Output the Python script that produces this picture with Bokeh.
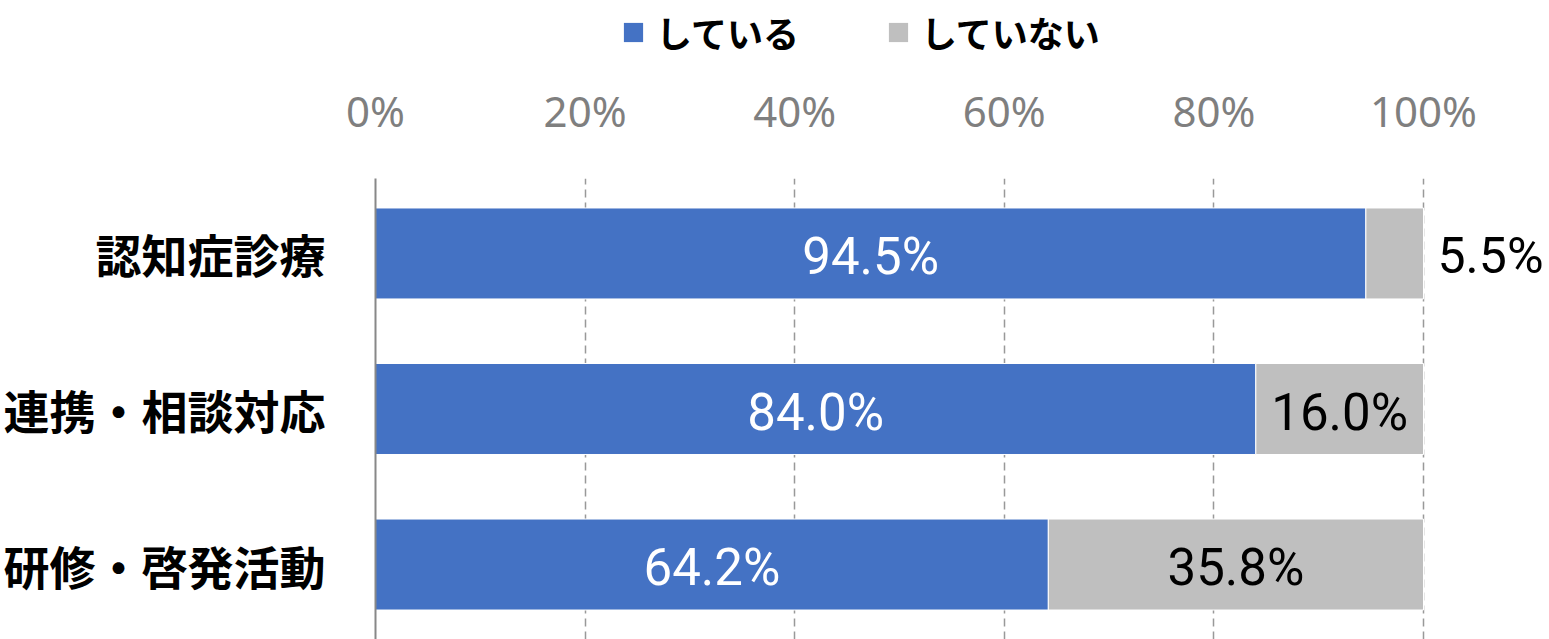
from bokeh.plotting import figure
from bokeh.layouts import column
from bokeh.models import Range1d, FixedTicker, Legend, LegendItem, ColumnDataSource
from bokeh.core.properties import value
from bokeh.embed import file_html
from bokeh.resources import INLINE

categories = ["認知症診療", "連携・相談対応", "研修・啓発活動"]
doing = [94.5, 84.0, 64.2]
not_doing = [5.5, 16.0, 35.8]
series_names = ["している", "していない"]
tick_values = [0, 20, 40, 60, 80, 100]
tick_labels = ["0%", "20%", "40%", "60%", "80%", "100%"]

BLUE = "#4472C4"
GRAY = "#BFBFBF"
JP = "Noto Sans CJK JP"
NUM = "Noto Sans"
LBL = "Roboto"

W = 1549
H_LEG = 70
H_MAIN = 639 - H_LEG
FRAME_LEFT = 375

ypos = [len(categories) - 1 - i for i in range(len(categories))]

# ---------- legend strip ----------
pl = figure(width=W, height=H_LEG, output_backend="svg", toolbar_location=None,
            x_range=Range1d(0, 1), y_range=Range1d(0, 1),
            min_border_left=0, min_border_right=0, min_border_top=0, min_border_bottom=0)
pl.axis.visible = False
pl.grid.grid_line_color = None
pl.outline_line_color = None
# zero-size swatch renderers; only their legend glyphs show
d1 = pl.hbar(y=[0.5], left=[0], right=[0], height=0, fill_color=BLUE, line_color=None)
d2 = pl.hbar(y=[0.5], left=[0], right=[0], height=0, fill_color=GRAY, line_color=None)
legend = Legend(items=[LegendItem(label=series_names[0], renderers=[d1]),
                       LegendItem(label=series_names[1], renderers=[d2])],
                orientation="horizontal", location=(623 - FRAME_LEFT - 2, 12),
                label_text_font=JP, label_text_font_style="bold",
                label_text_color="black",
                label_text_font_size="36px", glyph_width=24, glyph_height=24,
                label_standoff=11, spacing=87, border_line_color=None,
                background_fill_alpha=0, padding=2, margin=0)
pl.add_layout(legend, "center")

# ---------- main chart ----------
x_end = 100 + (W - 1423) / 10.48
p = figure(width=W, height=H_MAIN, output_backend="svg", toolbar_location=None,
           x_range=Range1d(0, x_end), y_range=Range1d(-0.482, 2.482),
           x_axis_location="above", min_border_left=FRAME_LEFT, min_border_right=0,
           min_border_top=178 - H_LEG, min_border_bottom=0)
p.outline_line_color = None

src = ColumnDataSource(dict(
    y=ypos, doing=doing, not_doing=not_doing,
    total=[a + b for a, b in zip(doing, not_doing)],
    doing_mid=[a / 2 for a in doing],
    nd_mid=[a + b / 2 for a, b in zip(doing, not_doing)],
    doing_lbl=[f"{v:.1f}%" for v in doing],
    nd_lbl=[f"{v:.1f}%" for v in not_doing],
))

r1 = p.hbar(y="y", left=0, right="doing", height=0.585, source=src,
            fill_color=BLUE, line_color="white", line_width=1)
r2 = p.hbar(y="y", left="doing", right="total", height=0.585, source=src,
            fill_color=GRAY, line_color="white", line_width=1)

p.text(x="doing_mid", y="y", text="doing_lbl", source=src, text_align="center",
       text_baseline="middle", text_color="white", text_font=value(LBL),
       text_font_size="51px", y_offset=3)

inside = [i for i, v in enumerate(not_doing) if v >= 10]
outside = [i for i, v in enumerate(not_doing) if v < 10]
src_in = ColumnDataSource(dict(x=[src.data["nd_mid"][i] for i in inside],
                               y=[ypos[i] for i in inside],
                               t=[src.data["nd_lbl"][i] for i in inside]))
src_out = ColumnDataSource(dict(x=[src.data["total"][i] for i in outside],
                                y=[ypos[i] for i in outside],
                                t=[src.data["nd_lbl"][i] for i in outside]))
p.text(x="x", y="y", text="t", source=src_in, text_align="center",
       text_baseline="middle", text_color="black", text_font=value(LBL),
       text_font_size="51px", y_offset=3)
p.text(x="x", y="y", text="t", source=src_out, text_align="left", x_offset=14,
       text_baseline="middle", text_color="black", text_font=value(LBL),
       text_font_size="50px", y_offset=3)

# x axis (top)
xa = p.xaxis[0]
xa.ticker = FixedTicker(ticks=tick_values)
xa.major_label_overrides = {v: l for v, l in zip(tick_values, tick_labels)}
xa.axis_line_color = None
xa.major_tick_line_color = None
xa.minor_tick_line_color = None
xa.major_label_text_font = NUM
xa.major_label_text_font_size = "42px"
xa.major_label_text_color = "#7F7F7F"
xa.major_label_standoff = 34

# y axis
ya = p.yaxis[0]
ya.ticker = FixedTicker(ticks=ypos)
ya.major_label_overrides = {y: c for y, c in zip(ypos, categories)}
ya.axis_line_color = "#888888"
ya.axis_line_width = 2
ya.major_tick_line_color = None
ya.minor_tick_line_color = None
ya.major_label_text_font = JP
ya.major_label_text_font_style = "bold"
ya.major_label_text_font_size = "46px"
ya.major_label_text_color = "black"
ya.major_label_standoff = 44

p.ygrid.grid_line_color = None
p.xgrid.grid_line_color = "#999999"
p.xgrid.grid_line_dash = "8 5"
p.xgrid.grid_line_width = 1.5

layout = column(pl, p, spacing=0)
open("out.html", "w").write(file_html(layout, INLINE))
